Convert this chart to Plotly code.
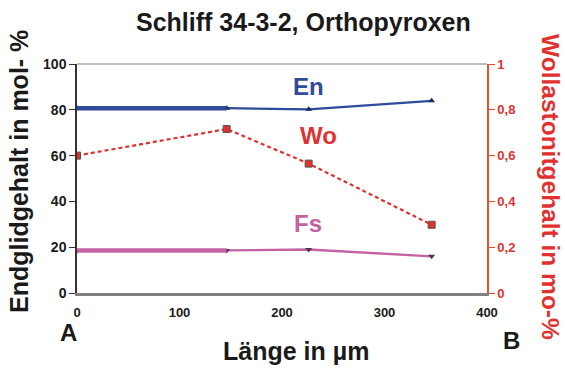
import plotly.graph_objects as go

# Measurement positions along the traverse (µm)
laenge = [0, 146, 226, 346]
# End-member contents (mol-%)
en = [80.7, 80.7, 80.2, 83.9]
fs = [18.6, 18.6, 19.0, 16.0]
# Wollastonite content (right axis)
wo = [0.60, 0.716, 0.565, 0.298]

y_ticks = [0, 20, 40, 60, 80, 100]
y2_ticks = [0, 0.2, 0.4, 0.6, 0.8, 1]
y2_labels = ["0", "0,2", "0,4", "0,6", "0,8", "1"]
x_ticks = [0, 100, 200, 300, 400]

BLUE = "#2E4C9B"
RED = "#E1312F"
PINK = "#C262A2"
AXRED = "#E8502A"
FONT = "Liberation Sans, Arial, sans-serif"

fig = go.Figure()

# En: thin line over all points, thicker first segment
fig.add_trace(go.Scatter(x=laenge, y=en, mode="lines+markers",
                         line=dict(color=BLUE, width=2.2),
                         marker=dict(symbol="triangle-up", size=6, color="#1c2c5a"),
                         showlegend=False))
fig.add_trace(go.Scatter(x=laenge[:2], y=en[:2], mode="lines",
                         line=dict(color=BLUE, width=4.5), showlegend=False))

# Fs
fig.add_trace(go.Scatter(x=laenge, y=fs, mode="lines+markers",
                         line=dict(color=PINK, width=2.4),
                         marker=dict(symbol="triangle-down", size=6, color="#4a3a48"),
                         showlegend=False))
fig.add_trace(go.Scatter(x=laenge[:2], y=fs[:2], mode="lines",
                         line=dict(color=PINK, width=4.5), showlegend=False))

# Wo on secondary axis
fig.add_trace(go.Scatter(x=laenge, y=wo, mode="lines+markers", yaxis="y2",
                         line=dict(color=RED, width=2.2, dash="4px,3px"),
                         marker=dict(symbol="square", size=7, color=RED,
                                     line=dict(color="#555555", width=1)),
                         showlegend=False))

fig.update_layout(
    width=565, height=369,
    margin=dict(l=77, r=78, t=64, b=76),
    paper_bgcolor="white", plot_bgcolor="white",
    font=dict(family=FONT, color="#1a1a1a"),
    xaxis=dict(range=[0, 400], tickvals=x_ticks, showgrid=False, zeroline=False,
               showline=True, linecolor="#808080", linewidth=2.5,
               ticks="", tickfont=dict(size=13, family=FONT, color="#1a1a1a", weight="bold"),
               ticklabelstandoff=6),
    yaxis=dict(range=[0, 100], tickvals=y_ticks, showgrid=False, zeroline=False,
               showline=True, linecolor="#333333", linewidth=1.5,
               ticks="outside", ticklen=6, tickcolor="#333333",
               tickfont=dict(size=14, family=FONT, color="#1a1a1a", weight="bold")),
    yaxis2=dict(range=[0, 1], tickvals=y2_ticks, ticktext=y2_labels,
                overlaying="y", side="right", showgrid=False, zeroline=False,
                showline=True, linecolor=AXRED, linewidth=1.5,
                ticks="outside", ticklen=6, tickcolor=AXRED,
                tickfont=dict(size=13, family=FONT, color=RED, weight="bold")),
    shapes=[dict(type="line", xref="paper", yref="paper", x0=0, x1=1, y0=1, y1=1,
                 line=dict(color="#808080", width=1.2))],
)

# text labels placed by pixel position (centre) on the page
ann = [
    dict(text="Schliff 34-3-2, Orthopyroxen", x=303, y=22, size=25, color="#1a1a1a", angle=0),
    dict(text="Länge in µm", x=296, y=351, size=25, color="#1a1a1a", angle=0),
    dict(text="A", x=68, y=332, size=24, color="#1a1a1a", angle=0),
    dict(text="B", x=511, y=340, size=24, color="#1a1a1a", angle=0),
    dict(text="Endglidgehalt in mol- %", x=19, y=172, size=25, color="#1a1a1a", angle=-90),
    dict(text="Wollastonitgehalt in mo-%", x=551, y=187, size=24.5, color=RED, angle=90),
    dict(text="En", x=308, y=86, size=24, color=BLUE, angle=0),
    dict(text="Wo", x=318, y=135, size=24, color=RED, angle=0),
    dict(text="Fs", x=308, y=223, size=24, color=PINK, angle=0),
]

W, H = 565 - 77 - 78, 369 - 64 - 76
for a in ann:
    fig.add_annotation(text=a["text"], xref="paper", yref="paper",
                       x=(a["x"] - 77) / W, y=(369 - 76 - a["y"]) / H,
                       showarrow=False, textangle=a["angle"],
                       xanchor="center", yanchor="middle",
                       font=dict(family=FONT, size=a["size"], color=a["color"], weight="bold"))

fig.write_html("out.html")
